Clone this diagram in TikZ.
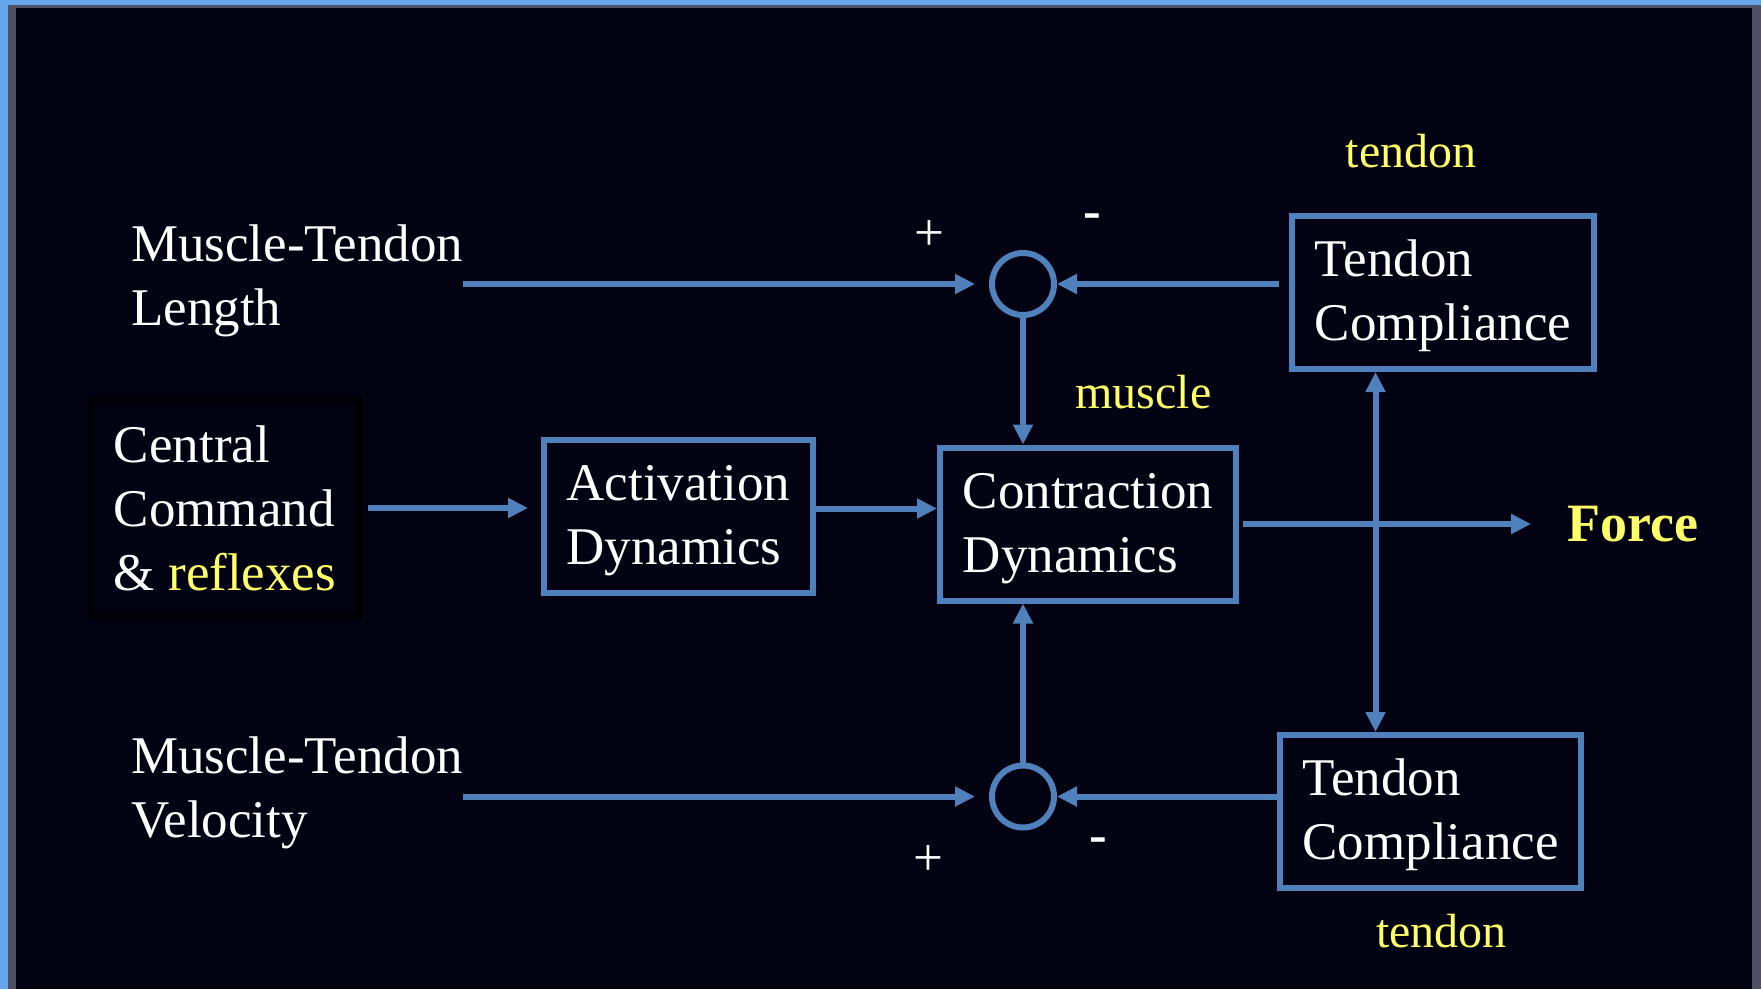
\documentclass[tikz,border=0pt]{standalone}
\usepackage{fontspec}
\setmainfont{Liberation Serif}
\usepackage{tikz}
\usetikzlibrary{arrows.meta}
\usetikzlibrary{positioning}
\definecolor{slidebg}{RGB}{2,2,18}
\definecolor{wireblue}{RGB}{79,129,189}
\definecolor{noteyellow}{RGB}{255,255,102}
\definecolor{frameblue}{RGB}{100,165,235}
\definecolor{bevelgray}{RGB}{78,78,100}
\newcommand{\bignote}{\fontsize{53}{64}\selectfont}
\newcommand{\smallnote}{\fontsize{48}{58}\selectfont}
\newcommand{\bnode}[4]{\node(#1)[block,minimum width=#3] at (#2){\rule{0pt}{44pt}#4}}

\begin{document}
\begin{tikzpicture}[
        x=1pt, y=-1pt,
        every node/.style={font=\bignote, text=white, inner sep=0pt},
        block/.style={rectangle, draw=wireblue, line width=6pt, minimum height=153pt, align=left},
        cmdbox/.style={rectangle, draw=black, line width=6pt, minimum width=268pt,
                       minimum height=216pt, align=left},
        junction/.style={circle, draw=wireblue, line width=6pt, minimum size=62pt},
        note/.style={font=\smallnote, text=noteyellow},
        sign/.style={font=\bignote},
        wire/.style={draw=wireblue, line width=6pt, -{Triangle[length=20pt,width=19pt]}},
        twowire/.style={draw=wireblue, line width=6pt,
                        {Triangle[length=20pt,width=19pt]}-{Triangle[length=20pt,width=19pt]}}
      ]
      \useasboundingbox (0,0) rectangle (1761,989);
      \fill[frameblue] (0,0) rectangle (1761,989);
      \fill[bevelgray] (8,5) rectangle (1761,989);
      \fill[slidebg] (16,8) rectangle (1752,989);

      \node(mtlen)[anchor=north west, align=left] at (131,225) {Muscle-Tendon\\Length};
      \node(mtvel)[anchor=north west, align=left] at (131,737) {Muscle-Tendon\\Velocity};
      \node(ccmd)[cmdbox] at (225,508) {Central\\Command\\\& \textcolor{noteyellow}{reflexes}};
      \bnode{act}{678.5,516.5}{269pt}{Activation\\Dynamics};
      \bnode{contr}{1088,524}{296pt}{Contraction\\Dynamics};
      \bnode{tentop}{1443,292.5}{302pt}{Tendon\\Compliance};
      \bnode{tenbot}{1430.5,811.5}{301pt}{Tendon\\Compliance};
      \node(sumtop)[junction] at (1023,284) {};
      \node(sumbot)[junction] at (1023,796.5) {};
      \node(force)[anchor=base west, font=\fontsize{54}{64}\selectfont\bfseries, text=noteyellow]
        at (1567,541) {Force};

      \node(plustop)[sign, anchor=base] at (929,250) {+};
      \node(minustop)[sign, anchor=base, font=\bignote\bfseries] at (1092,228) {-};
      \node(plusbot)[sign, anchor=base] at (928,875) {+};
      \node(minusbot)[sign, anchor=base, font=\bignote\bfseries] at (1098,852) {-};
      \node(tendtop)[note, anchor=base] at (1411,167) {tendon};
      \node(musc)[note, anchor=base] at (1143.5,408) {muscle};
      \node(tendbot)[note, anchor=base] at (1441.5,947) {tendon};

      \draw[wire, shorten >=14pt] (mtlen.east |- sumtop.west) -- (sumtop.west);
      \draw[wire, shorten <=10pt] (tentop.west |- sumtop.east) -- (sumtop.east);
      \draw[wire] (sumtop.south) -- (sumtop.south |- contr.north);
      \draw[wire, shorten <=6pt, shorten >=13pt] (ccmd.east) -- (ccmd.east -| act.west);
      \draw[wire] ([yshift=8pt]act.east) -- ([yshift=8pt]act.east -| contr.west);
      \draw[wire, shorten <=4pt, shorten >=36pt] (contr.east) -- (contr.east -| force.west);
      \coordinate (tap) at (1375.5,524);
      \draw[twowire] (tap |- tentop.south) -- (tap |- tenbot.north);
      \draw[wire, shorten >=14pt] (mtvel.east |- sumbot.west) -- (sumbot.west);
      \draw[wire] (tenbot.west |- sumbot.east) -- (sumbot.east);
      \draw[wire] (sumbot.north) -- (sumbot.north |- contr.south);
    \end{tikzpicture}
\end{document}
